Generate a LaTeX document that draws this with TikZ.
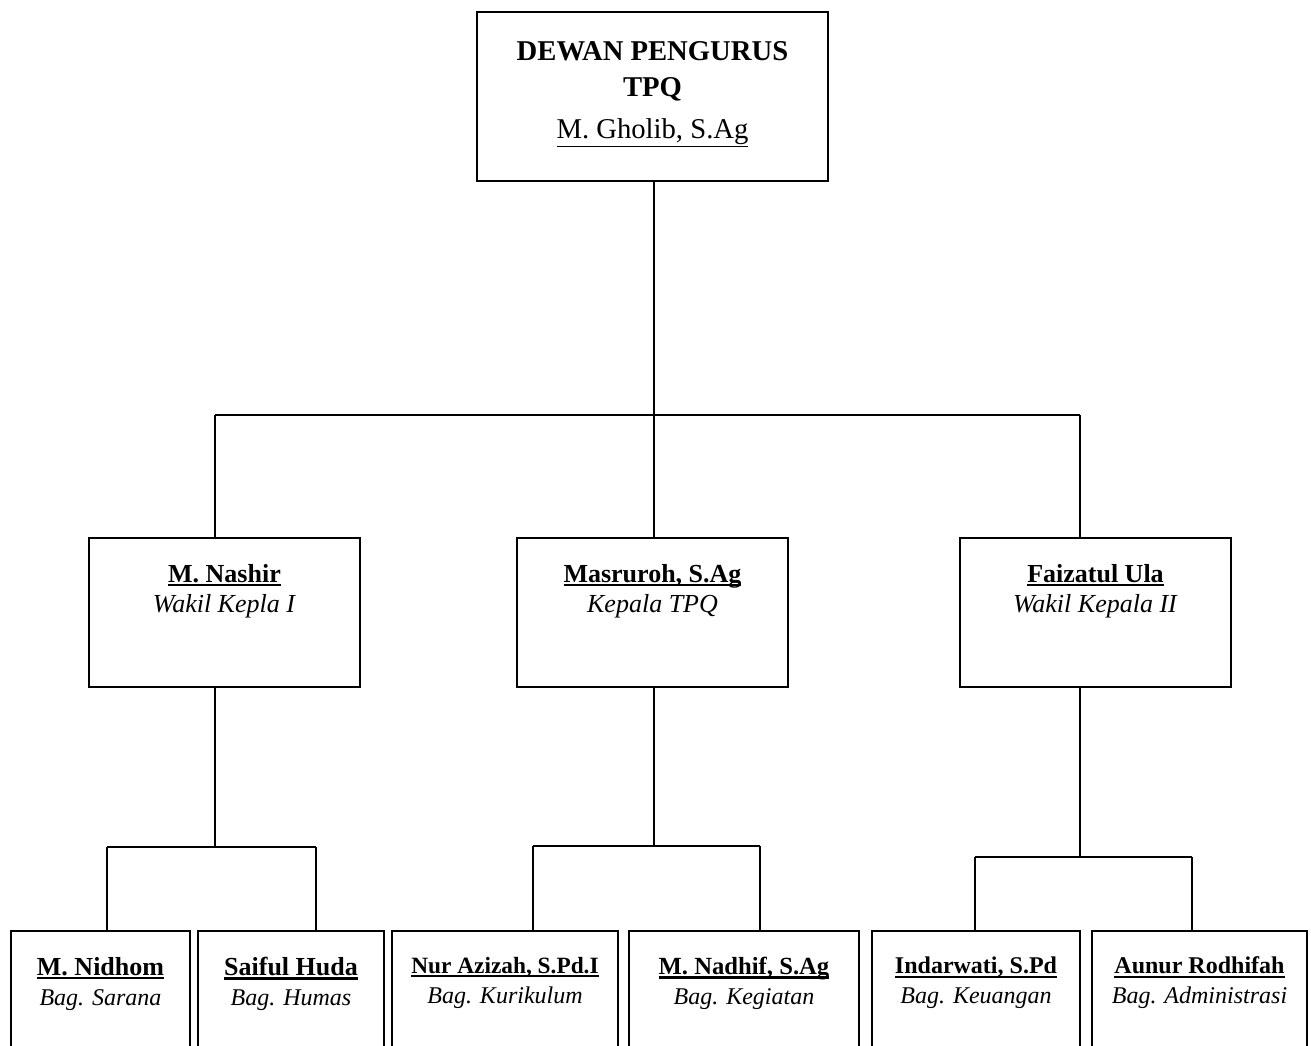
\documentclass[tikz,border=0pt]{standalone}
\usepackage{fontspec}
\setmainfont{Liberation Serif}
\usetikzlibrary{positioning}
\newcommand{\ulname}[1]{\leavevmode\setbox0\hbox{#1}\rlap{\rule[-3.2pt]{\wd0}{1.8pt}}\box0}

\begin{document}
\begin{tikzpicture}
    [x=0.75pt, y=-0.75pt, line width=1.3pt,
     box/.style={draw, rectangle, inner sep=0pt},
     txt/.style={anchor=north, align=center, inner sep=0pt}]
    \def \px {0.75pt}
    \useasboundingbox (0,0) rectangle (1311,1046);
    \clip (0,0) rectangle (1311,1046);

    % pengurus
    \node[box, minimum width=351*\px, minimum height=169*\px] (dewan) at (652.5,96.5) {};
    \node[txt, font=\fontsize{21.5}{27.5}\selectfont, yshift=-22pt] (dewan-txt) at (dewan.north)
      {\textbf{DEWAN PENGURUS}\\\textbf{TPQ}\\[3.5pt]\underline{M. Gholib, S.Ag}};

    % kepala dan wakil
    \node[box, minimum width=271*\px, minimum height=149*\px] (nashir) at (224.5,612.5) {};
    \node[box, minimum width=271*\px, minimum height=149*\px] (masruroh) at (652.5,612.5) {};
    \node[box, minimum width=271*\px, minimum height=149*\px] (faizatul) at (1095.5,612.5) {};
    \node[txt, font=\fontsize{19.5}{22.5}\selectfont, yshift=-19.5pt] (nashir-txt) at (nashir.north)
      {\textbf{\ulname{M. Nashir}}\\\textit{Wakil Kepla I}};
    \node[txt, font=\fontsize{19.5}{22.5}\selectfont, yshift=-19.5pt] (masruroh-txt) at (masruroh.north)
      {\textbf{\ulname{Masruroh, S.Ag}}\\\textit{Kepala TPQ}};
    \node[txt, font=\fontsize{19.5}{22.5}\selectfont, yshift=-19.5pt] (faizatul-txt) at (faizatul.north)
      {\textbf{\ulname{Faizatul Ula}}\\\textit{Wakil Kepala II}};

    % bagian
    \foreach \nm/\cx/\w/\fs/\who/\bag in {nidhom/100.5/179/19.5/{M. Nidhom}/Sarana,
        saiful/291/186/19.5/{Saiful Huda}/Humas, azizah/505/226/17.5/{Nur Azizah, S.Pd.I}/Kurikulum,
        nadhif/744/230/18.5/{M. Nadhif, S.Ag}/Kegiatan, indarwati/976/208/18/{Indarwati, S.Pd}/Keuangan,
        aunur/1199.5/215/18/{Aunur Rodhifah}/Administrasi}
    {
      \node[box, minimum width=\w*\px, minimum height=140*\px] (\nm) at (\cx,1001) {};
      \node[txt, font=\fontsize{18}{22.5}\selectfont, yshift=-19.5pt] (\nm-txt) at (\nm.north)
        {{\fontsize{\fs}{22.5}\selectfont\bfseries\ulname{\who}}\\\textit{Bag. \bag}};
    }

    \coordinate (bar) at (654,415);
    \coordinate (k1) at (215,415);
    \coordinate (k3) at (1080,415);
    \draw (bar |- dewan.south) -- (bar);
    \draw (k1) -- (k3);
    \draw (k1) -- (k1 |- nashir.north);
    \draw (bar) -- (bar |- masruroh.north);
    \draw (k3) -- (k3 |- faizatul.north);

    \coordinate (l) at (215,847);
    \coordinate (l1) at (107,847);
    \coordinate (l2) at (316,847);
    \draw (l |- nashir.south) -- (l);
    \draw (l1) -- (l2);
    \draw (l1) -- (l1 |- nidhom.north);
    \draw (l2) -- (l2 |- saiful.north);

    \coordinate (m) at (654,846);
    \coordinate (m1) at (533,846);
    \coordinate (m2) at (760,846);
    \draw (m |- masruroh.south) -- (m);
    \draw (m1) -- (m2);
    \draw (m1) -- (m1 |- azizah.north);
    \draw (m2) -- (m2 |- nadhif.north);

    \coordinate (r) at (1080,857);
    \coordinate (r1) at (975,857);
    \coordinate (r2) at (1192,857);
    \draw (r |- faizatul.south) -- (r);
    \draw (r1) -- (r2);
    \draw (r1) -- (r1 |- indarwati.north);
    \draw (r2) -- (r2 |- aunur.north);
  \end{tikzpicture}
\end{document}
